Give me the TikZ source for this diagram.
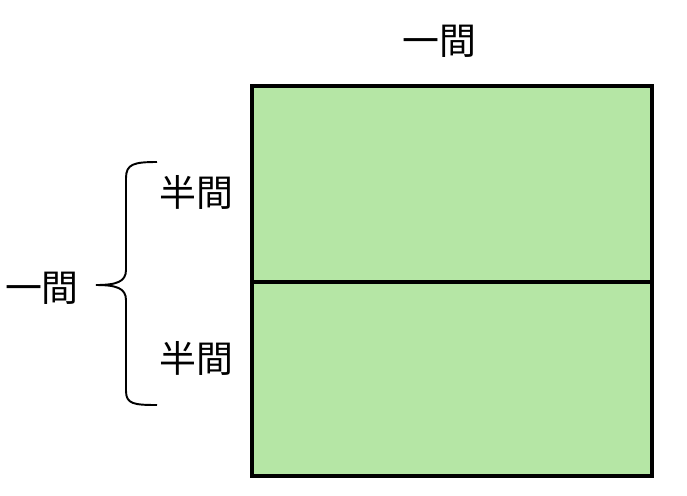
\documentclass[tikz,border=0pt]{standalone}
\usepackage{fontspec}
\newfontfamily\cjk{Noto Sans CJK JP}
\usepackage{xcolor}
\usetikzlibrary{positioning}
\definecolor{filltatami}{HTML}{B5E6A5}
\tikzset{
  mat/.style={draw=black, line width=2.6pt, fill=filltatami},
  brc/.style={draw=black, line width=1.1pt},
  lbl/.style={font=\cjk\fontsize{21}{25}\selectfont, inner sep=0pt},
}
\begin{document}
\begin{tikzpicture}[x=0.02cm, y=-0.02cm]
\useasboundingbox (0,0) rectangle (687,495);

% two half mats
\draw[mat] (252,86) rectangle (652,282);
\draw[mat] (252,282) rectangle (652,476);

\node[lbl] (t_top) at (439,41) {一間};
\node[lbl] (t_half1) at (196,192) {半間};
\node[lbl] (t_half2) at (196,358) {半間};
\node[lbl] (t_left) at (42,288) {一間};

% brace
\coordinate (b_top) at (157,162);
\coordinate (b_tip) at (96,285);
\coordinate (b_bot) at (157,405);
\draw[brc] (b_top) .. controls (134,162) and (126,164) .. (126,178)
  -- (126,270) .. controls (126,282) and (116,285) .. (b_tip)
  .. controls (116,285) and (126,288) .. (126,300)
  -- (126,391) .. controls (126,404) and (134,405) .. (b_bot);

\end{tikzpicture}
\end{document}
